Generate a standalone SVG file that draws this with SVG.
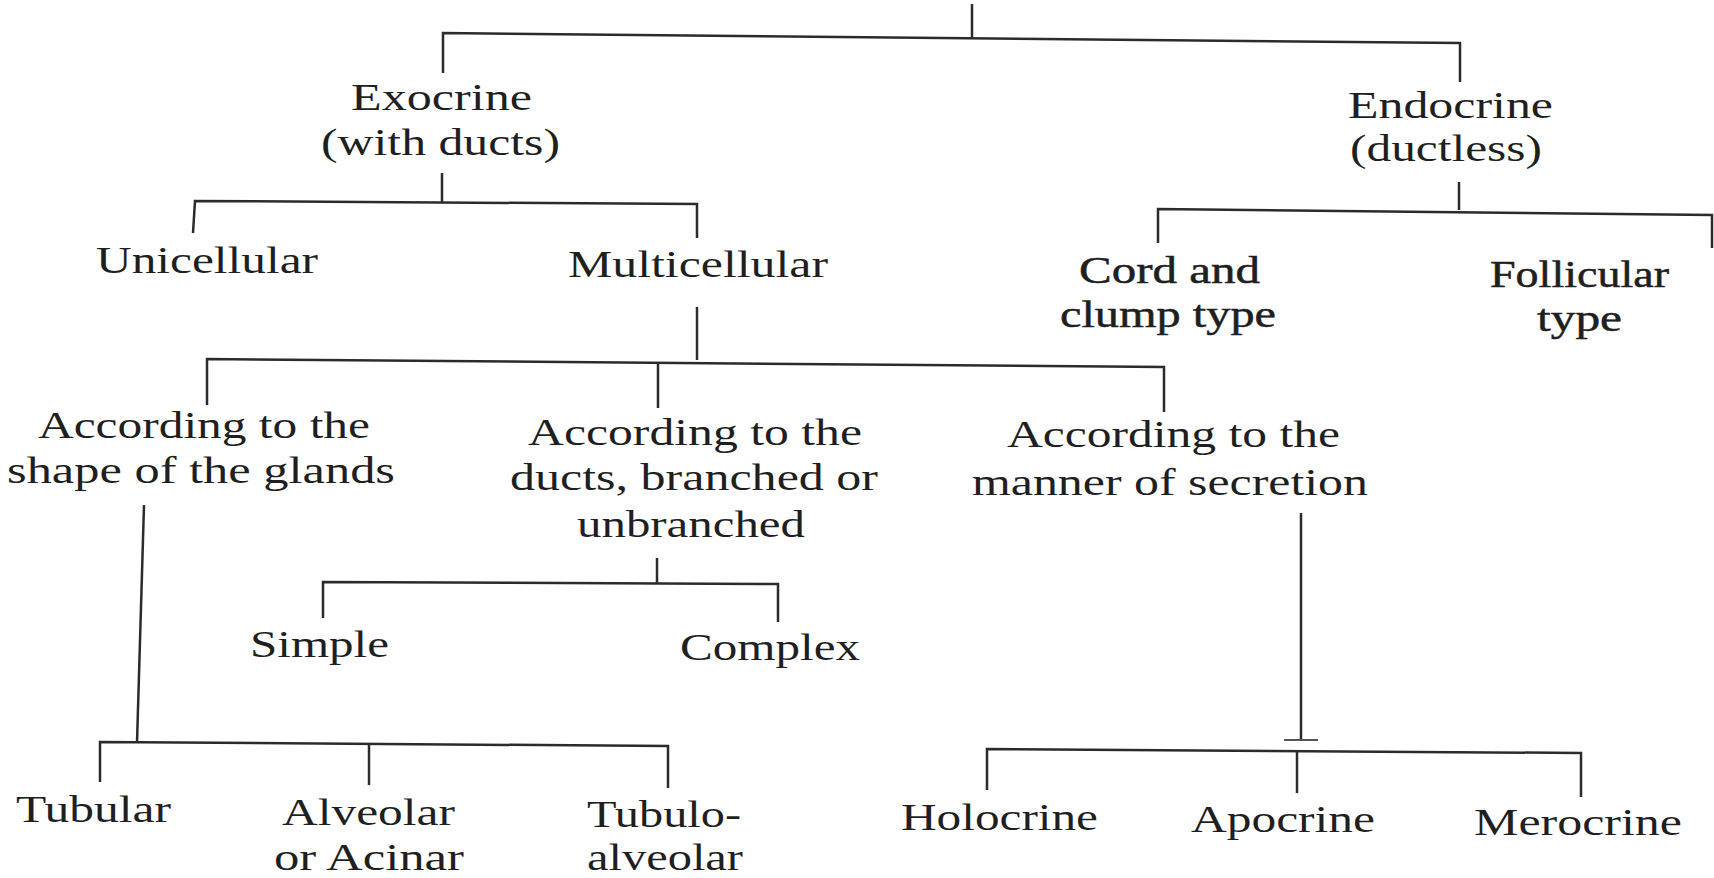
<svg xmlns="http://www.w3.org/2000/svg" width="1714" height="878" viewBox="0 0 1714 878">
  <style>
    .bg { fill: #ffffff; }
    .lbl { font-family: "Liberation Serif", "Times New Roman", serif; font-size: 38px; fill: #1f1f1f; text-anchor: middle; }
    .bold { stroke: #1f1f1f; stroke-width: 0.5px; }
    .conn path { fill: none; stroke: #2b2b2b; stroke-width: 2.5; stroke-linecap: butt; }
    .conn path.faint { stroke: #555555; stroke-width: 1.8; }
  </style>
  <rect class="bg" x="0" y="0" width="1714" height="878"/>

  <g id="connectors" class="conn">
    <path d="M972,4 V38"/>
    <path d="M443,73 V33 L1460,43 V82"/>
    <path d="M442,173 V202"/>
    <path d="M193,233 L195,201 L697,204 V238"/>
    <path d="M697,307 V360"/>
    <path d="M207,405 V359 L1164,367 V412"/>
    <path d="M658,363 V408"/>
    <path d="M1459,182 V210"/>
    <path d="M1158,243 V209 L1712,215 V248"/>
    <path d="M657,558 V583"/>
    <path d="M323,618 V582 L778,584 V622"/>
    <path d="M144,505 L137,743"/>
    <path d="M100,782 V742 L668,746 V788"/>
    <path d="M369,744 V785"/>
    <path d="M1301,513 V740"/>
    <path class="faint" d="M1284,740 H1318"/>
    <path d="M987,790 V749 L1581,753 V797"/>
    <path d="M1297,751 V793"/>
  </g>

  <g id="exocrine">
    <text class="lbl" x="441.5" y="110" textLength="181" lengthAdjust="spacingAndGlyphs">Exocrine</text>
    <text class="lbl" x="440.5" y="155" textLength="239" lengthAdjust="spacingAndGlyphs">(with ducts)</text>
  </g>
  <g id="endocrine">
    <text class="lbl" x="1450.5" y="118" textLength="205" lengthAdjust="spacingAndGlyphs">Endocrine</text>
    <text class="lbl" x="1446" y="161" textLength="192" lengthAdjust="spacingAndGlyphs">(ductless)</text>
  </g>
  <g id="unicellular">
    <text class="lbl" x="207" y="273" textLength="222" lengthAdjust="spacingAndGlyphs">Unicellular</text>
  </g>
  <g id="multicellular">
    <text class="lbl" x="698" y="277" textLength="260" lengthAdjust="spacingAndGlyphs">Multicellular</text>
  </g>
  <g id="cord-clump">
    <text class="lbl bold" x="1169.5" y="283" textLength="181" lengthAdjust="spacingAndGlyphs">Cord and</text>
    <text class="lbl bold" x="1168" y="327" textLength="216" lengthAdjust="spacingAndGlyphs">clump type</text>
  </g>
  <g id="follicular">
    <text class="lbl bold" x="1579.5" y="287" textLength="179" lengthAdjust="spacingAndGlyphs">Follicular</text>
    <text class="lbl bold" x="1579.5" y="331" textLength="85" lengthAdjust="spacingAndGlyphs">type</text>
  </g>
  <g id="shape">
    <text class="lbl" x="204" y="438" textLength="332" lengthAdjust="spacingAndGlyphs">According to the</text>
    <text class="lbl" x="201" y="483" textLength="388" lengthAdjust="spacingAndGlyphs">shape of the glands</text>
  </g>
  <g id="ducts">
    <text class="lbl" x="695" y="445" textLength="334" lengthAdjust="spacingAndGlyphs">According to the</text>
    <text class="lbl" x="694" y="490" textLength="368" lengthAdjust="spacingAndGlyphs">ducts, branched or</text>
    <text class="lbl" x="691" y="537" textLength="228" lengthAdjust="spacingAndGlyphs">unbranched</text>
  </g>
  <g id="manner">
    <text class="lbl" x="1173.5" y="447" textLength="333" lengthAdjust="spacingAndGlyphs">According to the</text>
    <text class="lbl" x="1170" y="495" textLength="396" lengthAdjust="spacingAndGlyphs">manner of secretion</text>
  </g>
  <g id="simple">
    <text class="lbl" x="319.5" y="657" textLength="139" lengthAdjust="spacingAndGlyphs">Simple</text>
  </g>
  <g id="complex">
    <text class="lbl" x="770" y="660" textLength="180" lengthAdjust="spacingAndGlyphs">Complex</text>
  </g>
  <g id="tubular">
    <text class="lbl" x="93.5" y="822" textLength="155" lengthAdjust="spacingAndGlyphs">Tubular</text>
  </g>
  <g id="alveolar">
    <text class="lbl" x="368.5" y="825" textLength="173" lengthAdjust="spacingAndGlyphs">Alveolar</text>
    <text class="lbl" x="369" y="870" textLength="190" lengthAdjust="spacingAndGlyphs">or Acinar</text>
  </g>
  <g id="tubuloalveolar">
    <text class="lbl" x="664" y="827" textLength="154" lengthAdjust="spacingAndGlyphs">Tubulo-</text>
    <text class="lbl" x="665" y="870" textLength="156" lengthAdjust="spacingAndGlyphs">alveolar</text>
  </g>
  <g id="holocrine">
    <text class="lbl" x="999.5" y="830" textLength="197" lengthAdjust="spacingAndGlyphs">Holocrine</text>
  </g>
  <g id="apocrine">
    <text class="lbl" x="1283" y="832" textLength="184" lengthAdjust="spacingAndGlyphs">Apocrine</text>
  </g>
  <g id="merocrine">
    <text class="lbl" x="1578" y="835" textLength="208" lengthAdjust="spacingAndGlyphs">Merocrine</text>
  </g>
</svg>
